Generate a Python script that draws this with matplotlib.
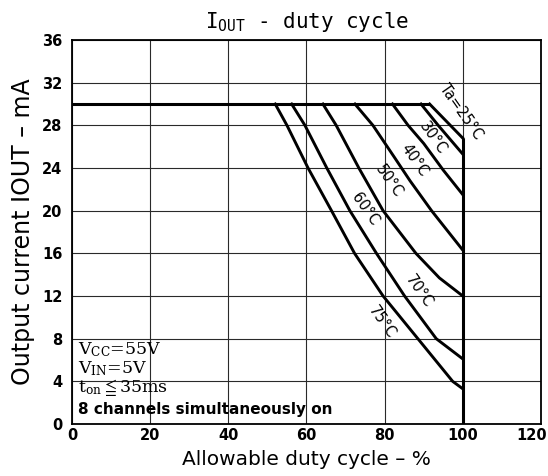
import matplotlib.pyplot as plt
from matplotlib.patches import Rectangle
from matplotlib.transforms import ScaledTranslation

plt.rcParams["mathtext.fontset"] = "dejavuserif"

# axis ticks
x_ticks = [0, 20, 40, 60, 80, 100, 120]
y_ticks = [0, 4, 8, 12, 16, 20, 24, 28, 32, 36]

# flat 30 mA limit and the 100 % wall
flat_duty = [0, 91.5]
flat_iout = [30, 30]
wall_duty = [100, 100]
wall_iout = [26.8, 0]

# derating curves (duty %, mA)
ta25_duty = [91.5, 100]
ta25_iout = [30, 26.8]
ta30_duty = [89.3, 93.7, 100]
ta30_iout = [30, 28, 25.3]
ta40_duty = [82.0, 86.0, 90.0, 95.0, 100]
ta40_iout = [30, 28, 26.3, 23.8, 21.5]
ta50_duty = [72.4, 77.0, 82.5, 86.5, 92.0, 100]
ta50_iout = [30, 28, 25, 22.8, 20, 16.3]
ta60_duty = [64.2, 67.6, 73.4, 79.6, 88.0, 94.0, 100]
ta60_iout = [30, 28, 24, 20, 16, 13.7, 12]
ta70_duty = [56.2, 59.6, 65.2, 71.1, 77.9, 85.1, 93.2, 100]
ta70_iout = [30, 28, 24, 20, 16, 12, 8, 6.1]
ta75_duty = [52.0, 55.0, 60.4, 66.4, 72.3, 79.6, 88.5, 97.4, 100]
ta75_iout = [30, 28, 24, 20, 16, 12, 8, 4, 3.3]

curve_labels = ["Ta=25°C", "30°C", "40°C", "50°C", "60°C", "70°C", "75°C"]
label_x = [99.5, 92.4, 87.6, 81.2, 75.0, 88.8, 79.3]
label_y = [29.3, 26.8, 24.7, 22.8, 20.1, 12.4, 9.5]

curves = [
    (ta25_duty, ta25_iout),
    (ta30_duty, ta30_iout),
    (ta40_duty, ta40_iout),
    (ta50_duty, ta50_iout),
    (ta60_duty, ta60_iout),
    (ta70_duty, ta70_iout),
    (ta75_duty, ta75_iout),
]

fig = plt.figure(figsize=(5.48, 4.76), dpi=100, facecolor="white")
ax = fig.add_axes([0.1314, 0.1092, 0.8558, 0.8067])

ax.set_xlim(0, 120)
ax.set_ylim(0, 36)
ax.set_xticks(x_ticks)
ax.set_yticks(y_ticks)
ax.tick_params(length=0, labelsize=10.5)
ax.tick_params(axis="y", pad=7)
ax.tick_params(axis="x", pad=3)
for lbl in ax.get_xticklabels() + ax.get_yticklabels():
    lbl.set_fontweight("bold")

# last x label sits a little left of its tick in the original
last = ax.get_xticklabels()[-1]
last.set_transform(last.get_transform() + ScaledTranslation(-7 / 72, 0, fig.dpi_scale_trans))

ax.grid(True, color="#2a2a2a", linewidth=0.8, zorder=0)
for sp in ax.spines.values():
    sp.set_linewidth(1.3)
    sp.set_color("black")

# blank patch under the condition text
ax.add_patch(Rectangle((0, 0), 54, 9.6, facecolor="white", edgecolor="none", zorder=1))

ax.plot(flat_duty, flat_iout, color="black", linewidth=2.2, zorder=3, solid_capstyle="butt")
ax.plot(wall_duty, wall_iout, color="black", linewidth=2.2, zorder=3, solid_capstyle="butt")

for duty, iout in curves:
    ax.plot(duty, iout, color="black", linewidth=2.1, zorder=3, solid_joinstyle="round")

for text, lx, ly in zip(curve_labels, label_x, label_y):
    ax.text(lx, ly, text, rotation=-55, ha="center", va="center",
            fontsize=10.5, family="DejaVu Sans", zorder=4)

# test conditions
ax.text(1.5, 7.0, r"$\mathrm{V_{CC}}$=55V", fontsize=12.5, family="DejaVu Serif",
        va="center", ha="left", zorder=4)
ax.text(1.5, 5.2, r"$\mathrm{V_{IN}}$=5V", fontsize=12.5, family="DejaVu Serif",
        va="center", ha="left", zorder=4)
ax.text(1.5, 3.4, r"$\mathrm{t_{on}}\leqq$35ms", fontsize=12.5, family="DejaVu Serif",
        va="center", ha="left", zorder=4)
ax.text(1.5, 1.4, "8 channels simultaneously on", fontsize=11, fontweight="bold",
        va="center", ha="left", zorder=4)

ax.set_title(r"$\mathtt{I_{OUT}}$ - duty cycle", fontsize=15, family="DejaVu Sans Mono", pad=9)
ax.set_xlabel("Allowable duty cycle – %", fontsize=14.5, labelpad=5)
ax.set_ylabel("Output current IOUT – mA", fontsize=17, labelpad=5)

plt.savefig("out.png", dpi=100, facecolor=fig.get_facecolor())
plt.close(fig)
